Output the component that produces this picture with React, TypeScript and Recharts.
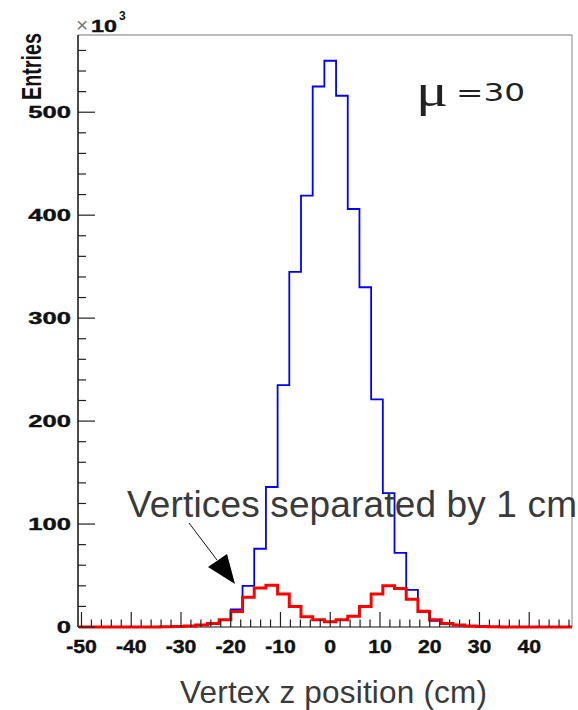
import React from "react";
import { ComposedChart, Line, XAxis, YAxis, ReferenceLine } from "recharts";

// histogram binning along z (cm)
const BIN_WIDTH = 2.35;
const FIRST_EDGE = -50.525;

// entries per bin (x10^3), all reconstructed vertices
const ALL_VERTICES = [
  0, 0, 0, 0, 0, 0, 0, 0,
  0.5, 1, 2, 3.5, 7, 17, 40, 76, 136, 235, 345, 419, 525,
  550,
  516, 406, 330, 221, 130, 72, 36, 16, 6, 3, 1.5, 1, 0.5,
  0, 0, 0, 0, 0, 0, 0, 0,
];

// entries per bin (x10^3), vertices separated by 1 cm
const SEPARATED = [
  0, 0, 0, 0, 0, 0, 0,
  0.3, 0.5, 1, 2, 3.5, 7, 15, 29, 38, 40.5, 32, 20, 10, 7,
  5,
  7, 10.5, 20, 32, 40, 37.5, 27, 15, 7, 3.5, 2, 1, 0.5, 0.3,
  0, 0, 0, 0, 0, 0, 0,
];

const X_MAJOR = [-50, -40, -30, -20, -10, 0, 10, 20, 30, 40];
const Y_MAJOR = [0, 100, 200, 300, 400, 500];
const X_DOMAIN: [number, number] = [-50.7, 48.6];
const Y_MAX = 575;

const X_TICKS: number[] = [];
for (let v = -50; v <= 48; v += 2) X_TICKS.push(v);
const Y_TICKS: number[] = [];
for (let v = 0; v <= 560; v += 20) Y_TICKS.push(v);

// step outline: one point per lower bin edge, last bin closed at the frame
const rows = ALL_VERTICES.map((v, i) => ({
  z: FIRST_EDGE + i * BIN_WIDTH,
  all: v,
  sep: SEPARATED[i],
}));
rows.push({
  z: X_DOMAIN[1],
  all: ALL_VERTICES[ALL_VERTICES.length - 1],
  sep: SEPARATED[SEPARATED.length - 1],
});

const AXIS_FONT = "'Liberation Sans', Arial, sans-serif";

const XTick = ({ x, y, payload }: any) => {
  const v = payload.value;
  const major = X_MAJOR.includes(v);
  return (
    <g>
      <line x1={x} y1={y} x2={x} y2={y - (major ? 15 : 7.5)} stroke="#222" strokeWidth={1.2} />
      {major && (
        <text
          x={x}
          y={y + 26}
          textAnchor="middle"
          fontFamily={AXIS_FONT}
          fontWeight="bold"
          fontSize={18}
          fill="#111"
          stroke="#111"
          strokeWidth={0.4}
          transform={`translate(${x} 0) scale(1.18 1) translate(${-x} 0)`}
        >
          {v}
        </text>
      )}
    </g>
  );
};

const YTick = ({ x, y, payload }: any) => {
  const v = payload.value;
  const major = Y_MAJOR.includes(v);
  return (
    <g>
      <line x1={x} y1={y} x2={x + (major ? 17 : 8)} y2={y} stroke="#222" strokeWidth={1.2} />
      {major && (
        <text
          x={x - 7}
          y={y + 6}
          textAnchor="end"
          fontFamily={AXIS_FONT}
          fontWeight="bold"
          fontSize={16.5}
          fill="#111"
          stroke="#111"
          strokeWidth={0.4}
          transform={`translate(${x - 7} 0) scale(1.55 1) translate(${-(x - 7)} 0)`}
        >
          {v}
        </text>
      )}
    </g>
  );
};

export default function App() {
  return (
    <div style={{ position: "absolute", left: 0, top: 0, width: 578, height: 710, background: "#fff" }}>
      <ComposedChart
        width={578}
        height={710}
        data={rows}
        margin={{ top: 35, right: 6, bottom: 53, left: 18 }}
      >
        <XAxis
          dataKey="z"
          type="number"
          domain={X_DOMAIN}
          ticks={X_TICKS}
          interval={0}
          height={30}
          tickSize={0}
          tickMargin={0}
          tickLine={false}
          tick={<XTick />}
          axisLine={false}
        />
        <YAxis
          type="number"
          domain={[0, Y_MAX]}
          ticks={Y_TICKS}
          interval={0}
          width={60}
          tickSize={0}
          tickMargin={0}
          tickLine={false}
          tick={<YTick />}
          axisLine={{ stroke: "#111", strokeWidth: 1.5 }}
        />
        <ReferenceLine y={Y_MAX} stroke="#777" strokeWidth={1} />
        <ReferenceLine x={X_DOMAIN[1]} stroke="#888" strokeWidth={1} />
        <ReferenceLine y={0} stroke="#111" strokeWidth={1.2} />
        <Line
          dataKey="all"
          type="stepAfter"
          stroke="#0000ff"
          strokeWidth={1.8}
          dot={false}
          isAnimationActive={false}
        />
        <Line
          dataKey="sep"
          type="stepAfter"
          stroke="#ff0000"
          strokeWidth={3}
          dot={false}
          isAnimationActive={false}
        />
      </ComposedChart>

      <svg
        width={578}
        height={710}
        style={{ position: "absolute", left: 0, top: 0, pointerEvents: "none" }}
      >
        {/* axis exponent */}
        <text x={76} y={32} fontFamily={AXIS_FONT} fontSize={21} fill="#777">×</text>
        <text x={91} y={32} fontFamily={AXIS_FONT} fontWeight="bold" fontSize={17} fill="#111" stroke="#111" strokeWidth={0.4} textLength={26} lengthAdjust="spacingAndGlyphs">10</text>
        <text x={119} y={20} fontFamily={AXIS_FONT} fontWeight="bold" fontSize={12} fill="#111">3</text>

        <text
          x={0}
          y={0}
          transform="translate(41 100) rotate(-90)"
          fontFamily={AXIS_FONT}
          fontWeight="bold"
          fontSize={28}
          fill="#111"
          textLength={67}
          lengthAdjust="spacingAndGlyphs"
        >
          Entries
        </text>

        <text x={416} y={106} fontFamily="'Liberation Serif', 'DejaVu Serif', serif" fontSize={46} fill="#222" textLength={32} lengthAdjust="spacingAndGlyphs">μ</text>
        <text x={456} y={101} fontFamily="'DejaVu Sans', sans-serif" fontSize={24} fill="#222" textLength={69} lengthAdjust="spacingAndGlyphs">=30</text>

        <text x={127} y={517} fontFamily={AXIS_FONT} fontSize={37} fill="#3a3a3a" textLength={450} lengthAdjust="spacing">
          Vertices separated by 1 cm
        </text>
        <line x1={189} y1={523} x2={217} y2={560} stroke="#111" strokeWidth={1} />
        <polygon points="208,567 227,554 235,584" fill="#000" />

        <text x={180} y={703} fontFamily={AXIS_FONT} fontSize={31.5} fill="#3a3a3a" textLength={307} lengthAdjust="spacing">
          Vertex z position (cm)
        </text>
      </svg>
    </div>
  );
}
